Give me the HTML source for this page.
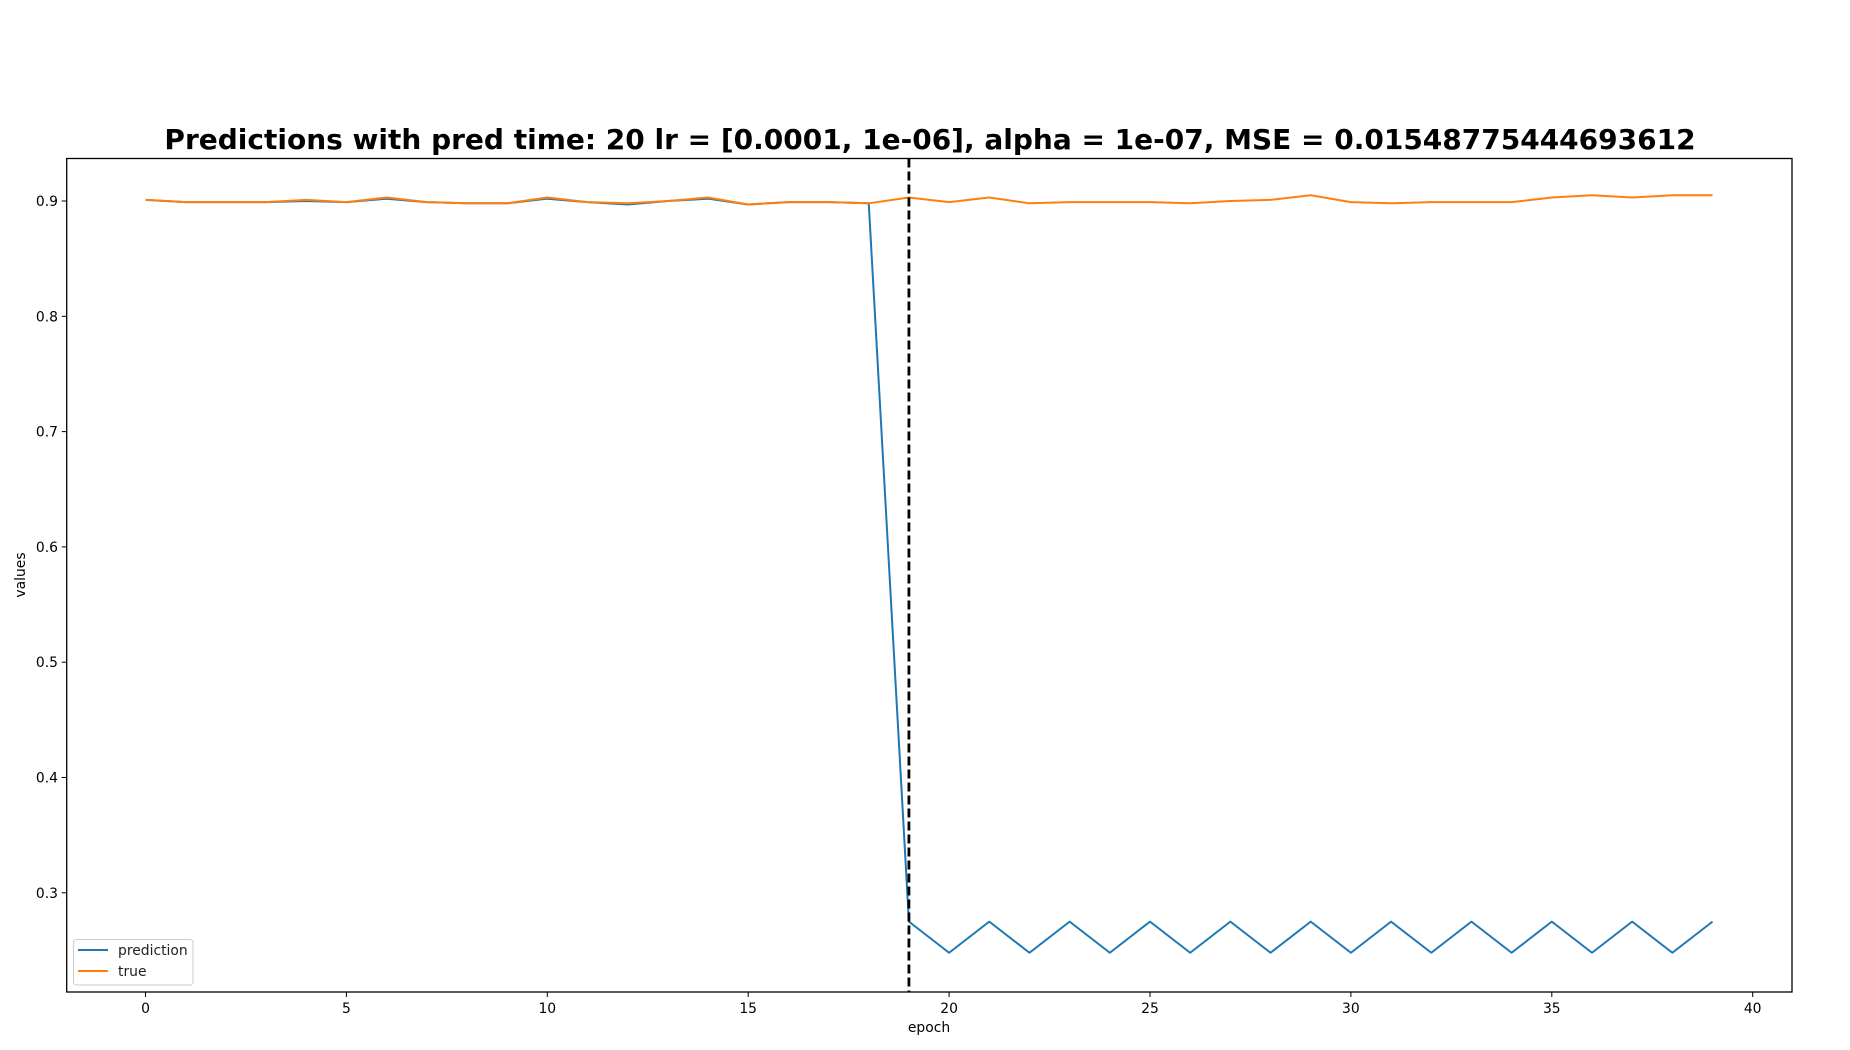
<!DOCTYPE html>
<html><head><meta charset="utf-8"><style>
body{margin:0;background:#fff}
svg{display:block;font-family:"DejaVu Sans","Liberation Sans",sans-serif}
</style></head><body>
<svg id="chart" width="1850" height="1050">
<text x="930" y="149" text-anchor="middle" font-size="28" font-weight="bold">Predictions with pred time: 20 lr = [0.0001, 1e-06], alpha = 1e-07, MSE = 0.01548775444693612</text>
<g id="axes"></g>
<g id="series"></g>
<rect x="66.7" y="158.5" width="1725.3" height="833.5" fill="none" stroke="#000" stroke-width="1.3"/>
<text x="929" y="1032" text-anchor="middle" font-size="13.9">epoch</text>
<text transform="translate(25,575) rotate(-90)" text-anchor="middle" font-size="13.9">values</text>
<g>
<rect x="73.5" y="939.5" width="119.5" height="45.5" rx="3" fill="#fff" fill-opacity="0.8" stroke="#ccc"/>
<g><line x1="78" y1="950" x2="108" y2="950" stroke="#1f77b4" stroke-width="2"/><text x="118" y="955" font-size="13.9" fill="#222">prediction</text></g>
<g><line x1="78" y1="971" x2="108" y2="971" stroke="#ff7f0e" stroke-width="2"/><text x="118" y="976" font-size="13.9" fill="#222">true</text></g>
</g>
</svg>
<script>
const epochs = Array.from({length:40},(_, i)=>i);
const trueVals = [0.901,0.899,0.899,0.899,0.901,0.899,0.903,0.899,0.898,0.898,0.903,0.899,0.898,0.900,0.903,0.897,0.899,0.899,0.898,0.903,0.899,0.903,0.898,0.899,0.899,0.899,0.898,0.900,0.901,0.905,0.899,0.898,0.899,0.899,0.899,0.903,0.905,0.903,0.905,0.905];
const predVals = [0.901,0.899,0.899,0.899,0.900,0.899,0.902,0.899,0.898,0.898,0.902,0.899,0.897,0.900,0.902,0.897,0.899,0.899,0.898,0.275,0.248,0.275,0.248,0.275,0.248,0.275,0.248,0.275,0.248,0.275,0.248,0.275,0.248,0.275,0.248,0.275,0.248,0.275,0.248,0.275];
const xTicks = [0,5,10,15,20,25,30,35,40];
const yTicks = [0.3,0.4,0.5,0.6,0.7,0.8,0.9];
const splitEpoch = [19];
const NS="http://www.w3.org/2000/svg";
const sx = v => 145.5 + v*40.18;
const sy = v => 201 - (v-0.9)*1153;
const axes=document.getElementById('axes'), ser=document.getElementById('series');
function mk(tag,attrs,parent){const e=document.createElementNS(NS,tag);for(const k in attrs)e.setAttribute(k,attrs[k]);parent.appendChild(e);return e;}
xTicks.forEach(t=>{
  const g=mk('g',{},axes);
  
  
  mk('line',{x1:sx(t),x2:sx(t),y1:992,y2:997,stroke:'#000','stroke-width':1},g);
  const tx=mk('text',{x:sx(t),y:1013,'text-anchor':'middle','font-size':13.9},g);tx.textContent=t;
});
yTicks.forEach(t=>{
  const g=mk('g',{},axes);
  
  
  mk('line',{x1:61.7,x2:66.7,y1:sy(t),y2:sy(t),stroke:'#000','stroke-width':1},g);
  const tx=mk('text',{x:58,y:sy(t)+5,'text-anchor':'end','font-size':13.9},g);tx.textContent=t.toFixed(1);
});
function line(vals,color,name){
  const p=mk('polyline',{points:vals.map((v,i)=>sx(epochs[i])+','+sy(v)).join(' '),fill:'none',stroke:color,'stroke-width':2,'stroke-linejoin':'round'},ser);
  
  
}
line(predVals,'#1f77b4','prediction-line');
line(trueVals,'#ff7f0e','true-line');
splitEpoch.forEach(e=>{
  const l=mk('line',{x1:sx(e),x2:sx(e),y1:158.5,y2:992,stroke:'#000','stroke-width':2.8,'stroke-dasharray':'9,4'},ser);
  
  
});
</script>
</body></html>
